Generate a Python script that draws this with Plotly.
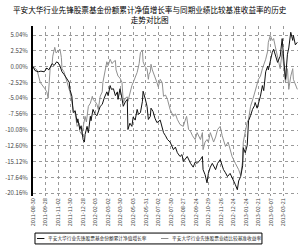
import plotly.graph_objects as go

# trading-day index since start, and cumulative return (%)
fund_days = [0,3,8,12,17,21,24,29,32,36,40,44,47,52,55,56,59,61,64,67,68,71,73,76,78,79,82,84,87,88,91,94,97,102,105,108,112,114,117,119,122,125,128,129,132,134,137,140,143,144,147,150,152,155,158,160,163,166,167,170,173,175,178,179,182,185,188,193,196,198,201,204,208,211,213,216,219,223,226,228,231,234,239,243,246,249,254,257,258,261,264,266,269,272,277,280,284,286,289,292,295,299,304,307,310,312,315,318,319,322,325,327,330,333,336,337,340,345,348,350,353,356,357,360,363,365,368,371,375,378,380,383,386,388,391,394,395,398,401]
fund_vals = [0,-0.6,-0.8,-0.7,-0.8,-0.2,-0.5,0.5,0.2,0.8,0.4,-0.8,-1.2,-2.0,-2.5,-3.6,-4.7,-7.3,-7.0,-8.9,-8.3,-10.0,-9.4,-11.6,-12.0,-10.8,-9.5,-10.5,-7.9,-8.6,-6.8,-7.5,-7.8,-6.3,-6.0,-5.0,-4.0,-4.6,-3.0,-3.6,-3.5,-4.6,-4.0,-5.2,-3.5,-4.5,-6.3,-5.6,-5.2,-10.0,-9.0,-9.5,-8.0,-8.5,-6.8,-7.6,-7.3,-5.5,-3.9,-5.0,-6.3,-8.4,-7.9,-6.6,-7.1,-8.2,-8.9,-8.5,-9.8,-10.5,-11.0,-11.6,-12.0,-12.6,-13.2,-12.8,-13.7,-14.3,-14.0,-15.1,-14.6,-14.3,-15.4,-16.0,-15.2,-15.4,-14.8,-14.3,-16.4,-17.2,-18.5,-17.0,-16.0,-15.4,-16.4,-15.4,-14.8,-15.6,-16.4,-16.9,-17.5,-17.0,-18.0,-18.8,-19.6,-18.2,-17.5,-15.8,-12.9,-13.7,-12.5,-8.6,-7.8,-6.8,-6.2,-5.7,-6.6,-4.7,-3.0,-3.8,-0.8,0.1,-0.5,1.2,2.3,2.8,1.8,0.7,1.7,4.5,1.7,-2.0,2.0,3.0,5.5,4.2,5.0,3.5,3.9]

bench_days = [0,3,6,11,15,18,21,23,26,29,30,33,35,38,41,43,44,47,49,52,56,58,61,64,67,70,71,74,76,79,81,84,87,90,91,94,97,99,102,105,106,109,112,114,117,120,122,125,126,129,132,135,137,140,143,144,147,150,152,155,158,161,163,166,167,170,173,175,176,178,179,181,185,188,190,193,196,198,201,204,208,213,216,219,223,228,231,233,236,239,242,246,249,254,257,258,261,264,266,269,274,277,280,284,287,289,292,296,299,302,307,312,315,318,319,322,325,327,330,334,337,340,342,345,348,353,356,357,360,363,365,368,371,374,375,378,381,383,386,388,391,394,395,398,401]
bench_vals = [0,-0.3,-0.5,-2.5,-3.2,-3.5,-4.0,-5.0,-0.3,0.5,1.7,3.1,2.2,2.5,2.8,1.5,-0.3,-0.8,-1.5,-2.3,-4.0,-5.0,-6.8,-7.5,-9.5,-9.0,-10.3,-10.8,-9.8,-7.9,-8.8,-6.3,-5.8,-4.7,-5.2,-5.5,-6.0,-6.8,-4.7,-4.0,-2.5,-1.0,0.8,0.2,1.2,0.5,0.8,1.0,-0.5,-1.5,-1.8,-2.5,-5.7,-5.0,-4.8,-5.5,-4.0,-3.0,-2.5,-1.6,-0.9,0.5,2.3,2.6,0.8,0.0,-0.3,-2.0,-1.2,-0.8,0.4,-0.5,-1.5,-2.5,-3.2,-2.0,-2.5,-4.7,-4.5,-5.2,-6.8,-7.9,-7.5,-8.4,-9.2,-9.5,-8.5,-7.9,-10.0,-10.3,-11.0,-11.6,-10.5,-11.6,-10.5,-13.2,-12.0,-11.6,-12.0,-10.5,-12.0,-11.2,-10.0,-9.5,-11.0,-11.6,-12.7,-12.0,-13.0,-14.3,-15.4,-16.4,-17.3,-15.0,-12.0,-10.5,-8.8,-8.4,-6.3,-5.0,-4.0,-3.0,-2.0,-1.5,-0.3,1.2,2.5,3.9,5.0,4.2,4.5,3.0,1.7,0.5,-0.3,2.5,0.0,-2.5,-0.3,-3.6,-1.5,-0.3,-2.0,-2.8,-3.6]

x_tick_days = [0,19,38,57,76,95,114,133,152,171,190,209,228,247,266,285,304,323,342,361,380]
x_tick_labels = ["2011-08-30","2011-09-28","2011-11-02","2011-11-30","2011-12-28","2012-02-03",
                 "2012-03-02","2012-03-30","2012-05-03","2012-05-31","2012-07-02","2012-07-30",
                 "2012-08-27","2012-09-24","2012-10-29","2012-11-26","2012-12-24","2013-01-24",
                 "2013-02-21","2013-03-07","2013-03-21"]
y_tick_vals = [5.04,2.52,0.0,-2.52,-5.04,-7.56,-10.08,-12.60,-15.12,-17.64,-20.16]
y_tick_labels = ["5.04%","2.52%","0.00%","-2.52%","-5.04%","-7.56%","-10.08%","-12.60%","-15.12%","-17.64%","-20.16%"]

series_names = ["平安大华行业先锋股票基金份额累计净值增长率", "平安大华行业先锋股票业绩比较基准收益率"]
series_colors = ["#111111", "#909090"]

FONT = "Noto Sans CJK SC"

fig = go.Figure()
fig.add_trace(go.Scatter(x=bench_days, y=bench_vals, mode="lines", name=series_names[1],
                         line=dict(color=series_colors[1], width=1), showlegend=False))
fig.add_trace(go.Scatter(x=fund_days, y=fund_vals, mode="lines", name=series_names[0],
                         line=dict(color=series_colors[0], width=1), showlegend=False))

fig.update_layout(
    width=300, height=245,
    margin=dict(l=33, r=2, t=26, b=49),
    paper_bgcolor="white", plot_bgcolor="white",
    font=dict(family=FONT, color="#333333"),
    showlegend=False,
)
fig.update_xaxes(
    range=[0, 402], tickmode="array", tickvals=x_tick_days, ticktext=x_tick_labels,
    tickangle=-90, tickfont=dict(size=5.5, color="#444444"),
    showgrid=True, gridcolor="#9a9a9a", griddash="dot", gridwidth=1,
    showline=False, zeroline=False, ticks="",
)
fig.update_yaxes(
    range=[-20.6, 6.5], tickmode="array", tickvals=y_tick_vals, ticktext=y_tick_labels,
    tickfont=dict(size=6, color="#444444"),
    showgrid=True, gridcolor="#9a9a9a", griddash="dot", gridwidth=1,
    showline=True, linecolor="#000000", linewidth=2, zeroline=False, ticks="", ticklabelstandoff=2,
)

# title
fig.add_annotation(xref="paper", yref="paper", x=0.44, y=1.0, yshift=24, xanchor="center", yanchor="top",
                   text="平安大华行业先锋股票基金份额累计净值增长率与同期业绩比较基准收益率的历史<br>走势对比图",
                   showarrow=False, font=dict(size=7.6, color="#000000", family=FONT), align="center")

# manual compact legend
fig.add_shape(type="rect", xref="paper", yref="paper", x0=0.0075, x1=0.864, y0=-0.218, y1=-0.282,
              line=dict(color="#000000", width=1), fillcolor="white")
legend_x = [0.015, 0.483]
for i in range(2):
    fig.add_shape(type="line", xref="paper", yref="paper", x0=legend_x[i], x1=legend_x[i] + 0.028,
                  y0=-0.25, y1=-0.25, line=dict(color=series_colors[i], width=1))
    fig.add_annotation(xref="paper", yref="paper", x=legend_x[i] + 0.034, y=-0.25, xanchor="left",
                       yanchor="middle", text=series_names[i], showarrow=False,
                       font=dict(size=4.7, color="#222222", family=FONT))

fig.write_html("out.html")
